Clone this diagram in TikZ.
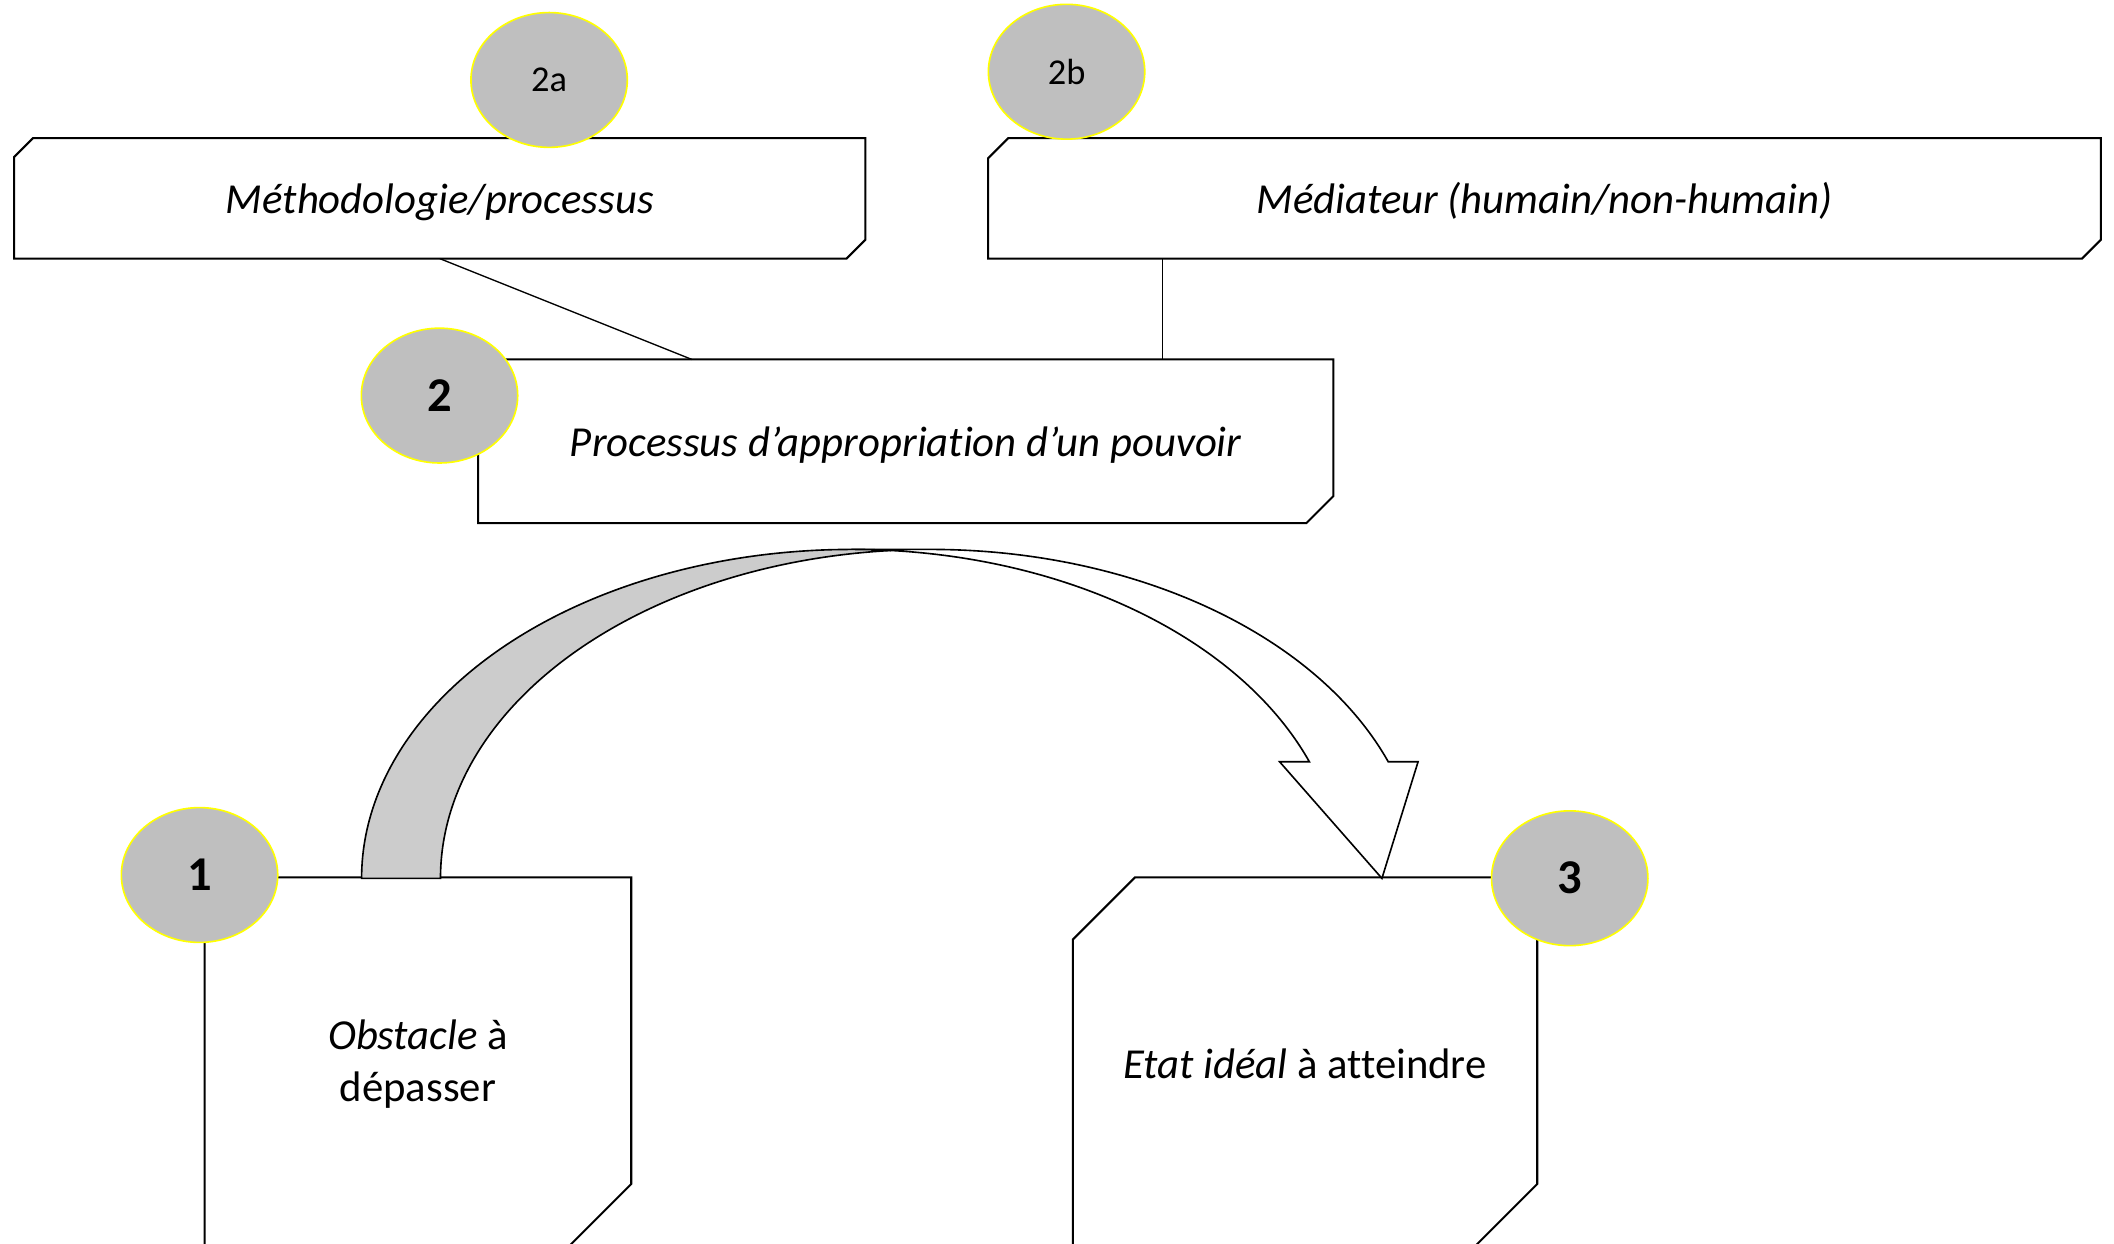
\documentclass[tikz,border=0pt]{standalone}
\usepackage{fontspec}
\setmainfont{Carlito}[Ligatures=NoCommon]
\usetikzlibrary{shapes.geometric,calc}
\definecolor{numgray}{HTML}{BFBFBF}
\definecolor{bandgray}{HTML}{CCCCCC}
\definecolor{ringyellow}{HTML}{FFFF00}
\begin{document}
\begin{tikzpicture}[x=1pt,y=-1pt,
  boxtext/.style={rectangle, draw=none, inner sep=0pt, align=center, font=\fontsize{31.7}{38.5}\selectfont},
  onelinetext/.style={boxtext, text depth=0pt},
  boxline/.style={draw=black, line width=1.5pt, line join=miter},
  link/.style={draw=black, line width=1pt},
  badge/.style={ellipse, fill=numgray, draw=ringyellow, line width=1.2pt, minimum width=116pt, minimum height=100pt, inner sep=0pt},
  badgesmall/.style={badge, font=\fontsize{27}{32}\selectfont},
  badgebig/.style={badge, font=\fontsize{36}{42}\selectfont\bfseries},
  arrowline/.style={draw=black, line width=1.2pt, line join=miter}
]
\useasboundingbox (0,0) rectangle (1568,922);
\clip (0,0) rectangle (1568,922);
\fill[white] (0,0) rectangle (1568,922);

% text boxes
\node[onelinetext, minimum width=631pt, minimum height=89pt] (m2a) at (326.2,147.1) {\itshape Méthodologie/processus};
\node[onelinetext, minimum width=825pt, minimum height=89pt] (m2b) at (1145.6,147.1) {\itshape Médiateur (humain/non-humain)};
\node[onelinetext, minimum width=634pt, minimum height=121pt] (p2) at (671.8,327.3) {\itshape Processus d’appropriation d’un pouvoir};
\node[boxtext, minimum width=316pt, minimum height=276pt] (o1) at (310,789) {\textit{Obstacle} à\\dépasser};
\node[boxtext, minimum width=344pt, minimum height=276pt] (e3t) at (968,789) {\textit{Etat idéal} à atteindre};

\draw[boxline] ([yshift=-14pt]m2a.north west) -- ([xshift=14pt]m2a.north west) -- (m2a.north east)
  -- ([yshift=14pt]m2a.south east) -- ([xshift=-14pt]m2a.south east) -- (m2a.south west) -- cycle;
\draw[boxline] ([yshift=-15pt]m2b.north west) -- ([xshift=15pt]m2b.north west) -- (m2b.north east)
  -- ([yshift=14pt]m2b.south east) -- ([xshift=-14pt]m2b.south east) -- (m2b.south west) -- cycle;
\draw[boxline] (p2.north west) -- (p2.north east)
  -- ([yshift=20pt]p2.south east) -- ([xshift=-20pt]p2.south east) -- (p2.south west) -- cycle;
\draw[boxline] (o1.north west) -- (o1.north east)
  -- ([yshift=49pt]o1.south east) -- ([xshift=-49pt]o1.south east) -- (o1.south west) -- cycle;
\draw[boxline] ([yshift=-46pt]e3t.north west) -- ([xshift=46pt]e3t.north west) -- (e3t.north east)
  -- ([yshift=49pt]e3t.south east) -- ([xshift=-49pt]e3t.south east) -- (e3t.south west) -- cycle;

% connectors
\coordinate (k2a) at ($(p2.north west)!0.25!(p2.north east)$);
\coordinate (k2b) at ($(p2.north west)!0.8!(p2.north east)$);
\draw[link] (m2a.south) -- (k2a);
\draw[link] (k2b |- m2b.south) -- (k2b);

% curved arrow
\coordinate (cA) at (631.5,651.5);
\coordinate (cB) at (690,651.5);
\coordinate (tip) at (1025,651.5);
\coordinate (barbL) at (949.1,565);
\coordinate (barbR) at (1051.8,565);
\filldraw[arrowline, fill=white] (tip) -- (barbL)
  -- ($(cA)+(-20.76:363.3 and 244)$) arc[start angle=-20.76, end angle=-90, x radius=363.3, y radius=244]
  -- ($(cB)+(-90:363.3 and 244)$) arc[start angle=-90, end angle=-20.76, x radius=363.3, y radius=244]
  -- (barbR) -- cycle;
\filldraw[arrowline, fill=bandgray] ($(cA)+(180:363.3 and 244)$)
  arc[start angle=180, end angle=274.62, x radius=363.3, y radius=244]
  arc[start angle=265.38, end angle=180, x radius=363.3, y radius=244] -- cycle;

% number badges
\node[badgesmall] (n2a) at (407.3,59.3) {2a};
\node[badgesmall] (n2b) at (791.1,53.2) {2b};
\node[badgebig] (n2) at (326,293.4) {2};
\node[badgebig] (n1) at (148,649) {1};
\node[badgebig] (n3) at (1164.3,651.4) {3};
\end{tikzpicture}
\end{document}
